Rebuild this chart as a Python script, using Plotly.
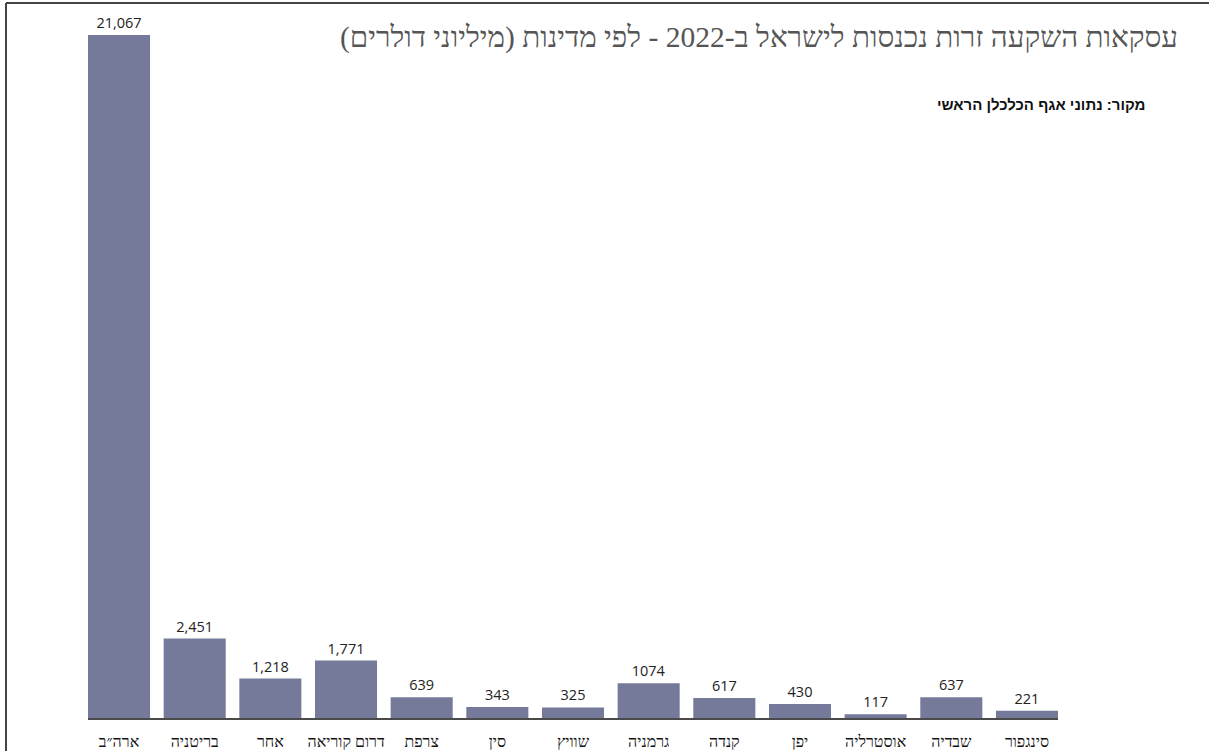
import plotly.graph_objects as go

# countries (order as in the chart, left to right)
countries = ["ארה״ב", "בריטניה", "אחר", "דרום קוריאה", "צרפת", "סין", "שוויץ",
             "גרמניה", "קנדה", "יפן", "אוסטרליה", "שבדיה", "סינגפור"]
values = [21067, 2451, 1218, 1771, 639, 343, 325, 1074, 617, 430, 117, 637, 221]
value_labels = ["21,067", "2,451", "1,218", "1,771", "639", "343", "325",
                "1074", "617", "430", "117", "637", "221"]

title_text = "עסקאות השקעה זרות נכנסות לישראל ב-2022 - לפי מדינות (מיליוני דולרים)"
source_text = "מקור: נתוני אגף הכלכלן הראשי"

RLE, PDF = "\u202b", "\u202c"

fig = go.Figure()
fig.add_trace(go.Bar(
    x=countries,
    y=values,
    text=value_labels,
    textposition="outside",
    cliponaxis=False,
    textfont=dict(family="Open Sans, Noto Sans, sans-serif", size=14.5, color="#222"),
    marker=dict(color="#757a9b", line=dict(width=0)),
    hoverinfo="x+y",
))

fig.update_layout(
    width=1209,
    height=751,
    margin=dict(l=88, r=151, t=35, b=33, autoexpand=False),
    plot_bgcolor="white",
    paper_bgcolor="white",
    showlegend=False,
    bargap=0.18,
    xaxis=dict(
        showline=True, linecolor="#4a4a4a", linewidth=2,
        ticks="", showgrid=False, zeroline=False,
        tickfont=dict(family="Liberation Serif, serif", size=16, color="#111"),
        ticklabelstandoff=8,
        automargin=False,
        range=[-0.41, 12.41],
        fixedrange=True,
    ),
    yaxis=dict(
        visible=False, range=[0, 21067], showgrid=False, zeroline=False,
        automargin=False,
    ),
    annotations=[
        dict(text=RLE + title_text + PDF, xref="paper", yref="paper",
             x=(1180 - 88) / 970, y=1 - (37 - 35) / 683, xanchor="right", yanchor="middle",
             showarrow=False,
             font=dict(family="Liberation Serif, serif", size=29.5, color="#555")),
        dict(text="<b>" + RLE + source_text + PDF + "</b>", xref="paper", yref="paper",
             x=(1148 - 88) / 970, y=1 - (105 - 35) / 683, xanchor="right", yanchor="middle",
             showarrow=False,
             font=dict(family="Liberation Sans, Arial, sans-serif", size=15, color="#111")),
    ],
    shapes=[
        # frame: left and top edges
        dict(type="line", xref="paper", yref="paper",
             x0=(6 - 88) / 970, x1=(6 - 88) / 970, y0=1 + (35 - 3) / 683, y1=-33 / 683,
             line=dict(color="#444", width=2)),
        dict(type="line", xref="paper", yref="paper",
             x0=(6 - 88) / 970, x1=(1209 - 88) / 970, y0=1 + (35 - 3) / 683, y1=1 + (35 - 3) / 683,
             line=dict(color="#444", width=2)),
    ],
)

fig.write_html("out.html", config={"displayModeBar": False},
               post_script="document.body.style.margin='0';")
